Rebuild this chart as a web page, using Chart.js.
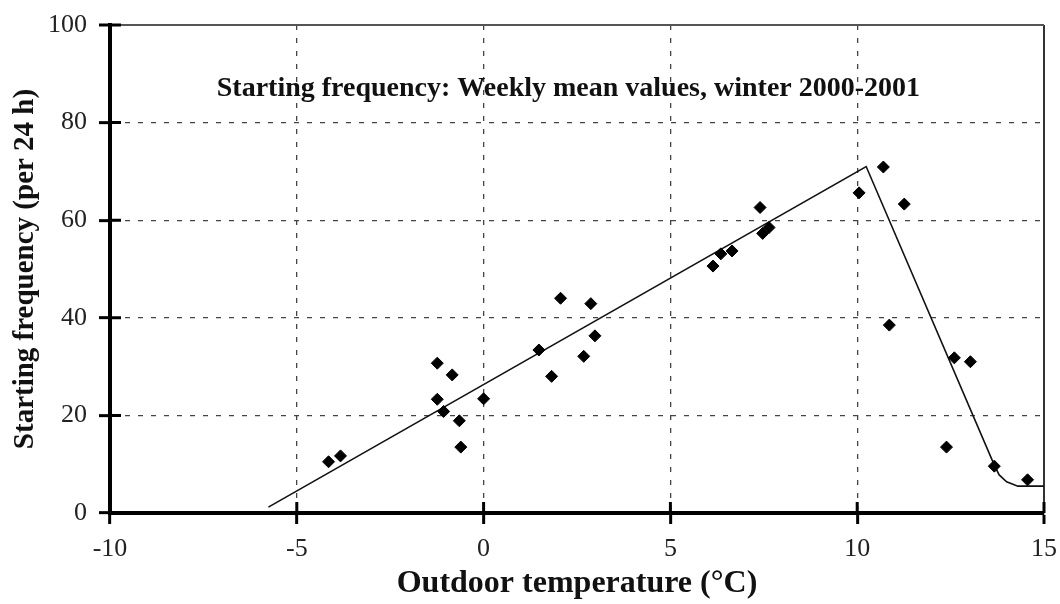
<!DOCTYPE html>
<html>
<head>
  <meta charset="utf-8">
  <title>Starting frequency</title>
  <script src="https://cdn.jsdelivr.net/npm/chart.js"></script>
  <style>
    * { margin: 0; padding: 0; box-sizing: border-box; }
    html, body { width: 1060px; height: 604px; overflow: hidden; background: #fff; }
    #wrap { width: 1060px; height: 604px; }
  </style>
</head>
<body>
  <div id="wrap"><canvas id="grafik"></canvas></div>

  <script>
    // weekly means: outdoor temperature (°C) and starting frequency (per 24 h)
    const tempC = [-4.15, -3.83, -1.24, -1.24, -1.07, -0.84, -0.65, -0.61, 0.0, 1.48,
                   1.82, 2.06, 2.68, 2.87, 2.98, 6.14, 6.35, 6.65, 7.40, 7.47,
                   7.64, 10.05, 10.70, 11.26, 10.86, 12.60, 13.03, 12.39, 13.67, 14.56];
    const freq  = [10.5, 11.7, 30.7, 23.3, 20.8, 28.3, 18.9, 13.5, 23.4, 33.4,
                   28.0, 44.0, 32.1, 42.9, 36.3, 50.6, 53.1, 53.7, 62.6, 57.3,
                   58.5, 65.6, 70.9, 63.3, 38.5, 31.8, 31.0, 13.5, 9.6, 6.8];

    // fitted curve
    const fitT = [-5.76, 10.24, 13.67, 13.8, 14.0, 14.3, 15.0];
    const fitF = [1.2, 71.0, 9.8, 7.8, 6.4, 5.5, 5.5];

    const xTicks = [-10, -5, 0, 5, 10, 15];
    const yTicks = [0, 20, 40, 60, 80, 100];

    const titel = 'Starting frequency: Weekly mean values, winter 2000-2001';

    const serif = '"Liberation Serif", "Times New Roman", serif';

    // inner half of the axis ticks (they cross the axis line)
    const crossTicks = {
      id: 'crossTicks',
      afterDraw(chart) {
        const { ctx, chartArea, scales } = chart;
        ctx.save();
        ctx.strokeStyle = '#000';
        ctx.lineWidth = 3;
        ctx.beginPath();
        xTicks.forEach(v => {
          const px = scales.x.getPixelForValue(v);
          ctx.moveTo(px, chartArea.bottom);
          ctx.lineTo(px, chartArea.bottom - 11);
        });
        yTicks.forEach(v => {
          const py = scales.y.getPixelForValue(v);
          ctx.moveTo(chartArea.left, py);
          ctx.lineTo(chartArea.left + 11, py);
        });
        ctx.stroke();
        ctx.restore();
      }
    };

    // title inside the plot area
    const innerTitle = {
      id: 'innerTitle',
      afterDatasetsDraw(chart) {
        const { ctx, scales } = chart;
        ctx.save();
        ctx.font = 'bold 28px ' + serif;
        ctx.fillStyle = '#111';
        ctx.textAlign = 'center';
        ctx.textBaseline = 'middle';
        ctx.fillText(titel, scales.x.getPixelForValue(2.27), scales.y.getPixelForValue(87));
        ctx.restore();
      }
    };

    const isEdge = c => c.type === 'tick' && c.tick && (c.tick.value === 100 || c.tick.value === 15);

    const ctx = document.getElementById('grafik').getContext('2d');
    new Chart(ctx, {
      type: 'scatter',
      data: {
        datasets: [{
          data: tempC.map((t, i) => ({ x: t, y: freq[i] })),
          pointStyle: 'rectRot',
          pointRadius: 6,
          pointBackgroundColor: '#000',
          pointBorderColor: '#000',
          showLine: false
        }, {
          data: fitT.map((t, i) => ({ x: t, y: fitF[i] })),
          showLine: true,
          borderColor: '#111',
          borderWidth: 1.6,
          pointRadius: 0,
          tension: 0
        }]
      },
      plugins: [crossTicks, innerTitle],
      options: {
        responsive: true,
        maintainAspectRatio: false,
        animation: false,
        layout: { padding: { left: 0, right: 16, top: 25, bottom: 0 } },
        plugins: {
          legend: { display: false },
          tooltip: { enabled: false }
        },
        scales: {
          x: {
            type: 'linear',
            min: -10,
            max: 15,
            afterFit: s => { s.height = 91; s.paddingLeft = 0; s.paddingRight = 0; },
            afterBuildTicks: s => { s.ticks = xTicks.map(v => ({ value: v })); },
            ticks: {
              font: { family: serif, size: 26 },
              color: '#222',
              padding: 10,
              maxRotation: 0
            },
            grid: {
              color: c => c.tick && c.tick.value === -10 ? 'rgba(0,0,0,0)' : (isEdge(c) ? '#333' : '#444'),
              lineWidth: c => isEdge(c) ? 2 : 1.3,
              tickLength: 11,
              tickWidth: 3,
              tickColor: '#000'
            },
            border: {
              display: true,
              color: '#000',
              width: 4,
              dash: c => (c.type === 'tick' && !isEdge(c)) ? [5, 8] : []
            },
            title: {
              display: true,
              text: 'Outdoor temperature (°C)',
              font: { family: serif, size: 32, weight: 'bold' },
              color: '#111',
              padding: { top: 0, bottom: 1 }
            }
          },
          y: {
            min: 0,
            max: 100,
            afterFit: s => { s.width = 110; s.paddingTop = 0; s.paddingBottom = 0; },
            afterBuildTicks: s => { s.ticks = yTicks.map(v => ({ value: v })); },
            ticks: {
              font: { family: serif, size: 26 },
              color: '#222',
              padding: 12
            },
            grid: {
              color: c => c.tick && c.tick.value === 0 ? 'rgba(0,0,0,0)' : (isEdge(c) ? '#555' : '#444'),
              lineWidth: c => isEdge(c) ? 2 : 1.3,
              tickLength: 11,
              tickWidth: 3,
              tickColor: '#000'
            },
            border: {
              display: true,
              color: '#000',
              width: 4,
              dash: c => (c.type === 'tick' && !isEdge(c)) ? [5, 8] : []
            },
            title: {
              display: true,
              text: 'Starting frequency (per 24 h)',
              font: { family: serif, size: 29, weight: 'bold' },
              color: '#111',
              padding: { top: 8, bottom: 8 }
            }
          }
        }
      }
    });
  </script>
</body>
</html>
